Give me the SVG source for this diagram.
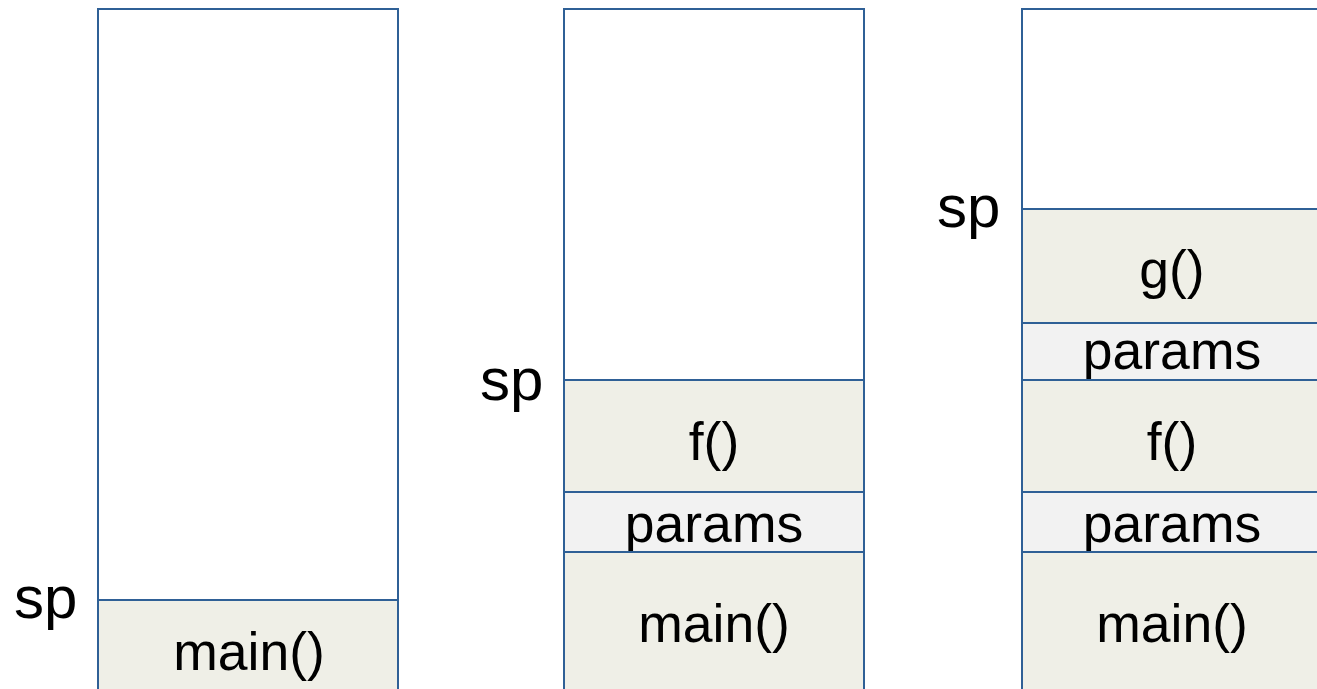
<svg xmlns="http://www.w3.org/2000/svg" width="1317" height="689" viewBox="0 0 1317 689">
  <style>
    .frame { fill: #ffffff; stroke: #2f6096; stroke-width: 2; }
    .frameFill { fill: #efefe7; stroke: #2f6096; stroke-width: 2; }
    .paramFill { fill: #f2f2f2; stroke: #2f6096; stroke-width: 2; }
    .lbl { font-family: "Liberation Sans", Arial, sans-serif; font-size: 53.5px; fill: #000; text-anchor: middle; }
    .sp { font-family: "Liberation Sans", Arial, sans-serif; font-size: 60px; fill: #000; }
  </style>
  <rect width="1317" height="689" fill="#ffffff"/>

  <!-- Stack 1: only main() -->
  <g id="stack1">
    <rect class="frame" x="98" y="9" width="300" height="700"/>
    <g id="s1-main">
      <rect class="frameFill" x="98" y="600" width="300" height="109"/>
      <text class="lbl" x="249" y="670">main()</text>
    </g>
    <text id="s1-sp" class="sp" x="14" y="618">sp</text>
  </g>

  <!-- Stack 2: main() calls f() -->
  <g id="stack2">
    <rect class="frame" x="564" y="9" width="300" height="700"/>
    <g id="s2-f">
      <rect class="frameFill" x="564" y="380" width="300" height="112"/>
      <text class="lbl" x="714" y="460">f()</text>
    </g>
    <g id="s2-params">
      <rect class="paramFill" x="564" y="492" width="300" height="60"/>
      <text class="lbl" x="714" y="542">params</text>
    </g>
    <g id="s2-main">
      <rect class="frameFill" x="564" y="552" width="300" height="157"/>
      <text class="lbl" x="714" y="642">main()</text>
    </g>
    <text id="s2-sp" class="sp" x="480" y="400">sp</text>
  </g>

  <!-- Stack 3: f() calls g() -->
  <g id="stack3">
    <rect class="frame" x="1022" y="9" width="300" height="700"/>
    <g id="s3-g">
      <rect class="frameFill" x="1022" y="209" width="300" height="114"/>
      <text class="lbl" x="1172" y="288">g()</text>
    </g>
    <g id="s3-params2">
      <rect class="paramFill" x="1022" y="323" width="300" height="57"/>
      <text class="lbl" x="1172" y="369">params</text>
    </g>
    <g id="s3-f">
      <rect class="frameFill" x="1022" y="380" width="300" height="112"/>
      <text class="lbl" x="1172" y="460">f()</text>
    </g>
    <g id="s3-params1">
      <rect class="paramFill" x="1022" y="492" width="300" height="60"/>
      <text class="lbl" x="1172" y="542">params</text>
    </g>
    <g id="s3-main">
      <rect class="frameFill" x="1022" y="552" width="300" height="157"/>
      <text class="lbl" x="1172" y="642">main()</text>
    </g>
    <text id="s3-sp" class="sp" x="937" y="227">sp</text>
  </g>

  <!-- connectors: none in this figure -->
  <g id="connectors"/>
</svg>
